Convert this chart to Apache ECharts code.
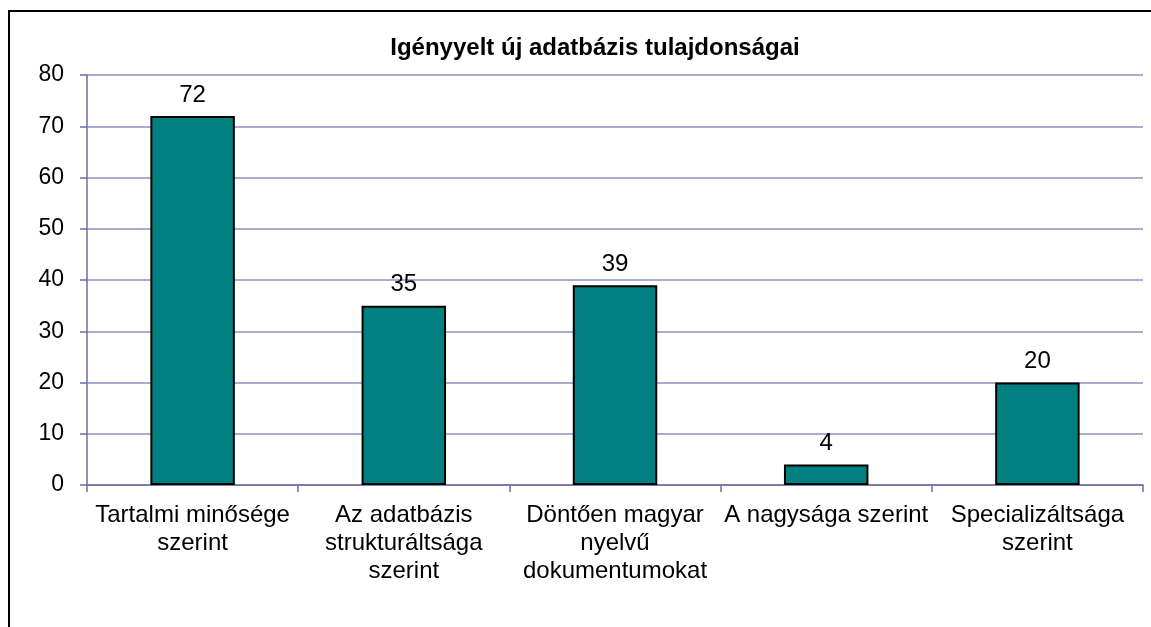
<!DOCTYPE html>
<html>
<head>
<meta charset="utf-8">
<script src="https://cdn.jsdelivr.net/npm/echarts@6/dist/echarts.min.js"></script>
<style>
html,body{margin:0;padding:0;background:#fff;}
#c{width:1151px;height:627px;}
</style>
</head>
<body>
<div id="c"></div>
<script>
const chartTitle = 'Igényyelt új adatbázis tulajdonságai';
const categories = ['Tartalmi minősége\nszerint', 'Az adatbázis\nstrukturáltsága\nszerint', 'Döntően magyar\nnyelvű\ndokumentumokat', 'A nagysága szerint', 'Specializáltsága\nszerint'];
const values = [72, 35, 39, 4, 20];
const yMin = 0, yMax = 80, yStep = 10;

const FONT = '"Liberation Sans", Arial, sans-serif';
const chart = echarts.init(document.getElementById('c'));
chart.setOption({
  backgroundColor: '#ffffff',
  animation: false,
  title: {
    text: chartTitle,
    left: 590,
    top: 31,
    textAlign: 'center',
    textStyle: { fontFamily: FONT, fontSize: 24, fontWeight: 'bold', color: '#000' }
  },
  graphic: [{
    type: 'rect',
    shape: { x: 9, y: 11, width: 1300, height: 800 },
    style: { fill: 'none', stroke: '#000', lineWidth: 2 },
    z: 100
  }],
  grid: { left: 87, right: 8, top: 75, bottom: 142, containLabel: false },
  xAxis: {
    type: 'category',
    data: categories,
    axisLine: { lineStyle: { color: '#6E6EA0', width: 1.5 } },
    axisTick: { show: true, inside: false, length: 7, lineStyle: { color: '#6E6EA0', width: 1.5 } },
    axisLabel: { fontFamily: FONT, fontSize: 24, color: '#000', lineHeight: 28, margin: 16, interval: 0 }
  },
  yAxis: {
    type: 'value',
    min: yMin, max: yMax, interval: yStep,
    axisLine: { show: true, lineStyle: { color: '#6E6EA0', width: 1.5 } },
    axisTick: { show: true, inside: false, length: 7, lineStyle: { color: '#6E6EA0', width: 1.5 } },
    axisLabel: { fontFamily: FONT, fontSize: 23, color: '#000', margin: 23 },
    splitLine: { show: true, lineStyle: { color: '#9090C0', width: 1.5 } }
  },
  series: [{
    type: 'bar',
    data: values,
    barWidth: '40%',
    itemStyle: { color: '#008080', borderColor: '#000', borderWidth: 2 },
    label: { show: true, position: 'top', distance: 9, fontFamily: FONT, fontSize: 24, color: '#000' }
  }]
});
</script>
</body>
</html>
